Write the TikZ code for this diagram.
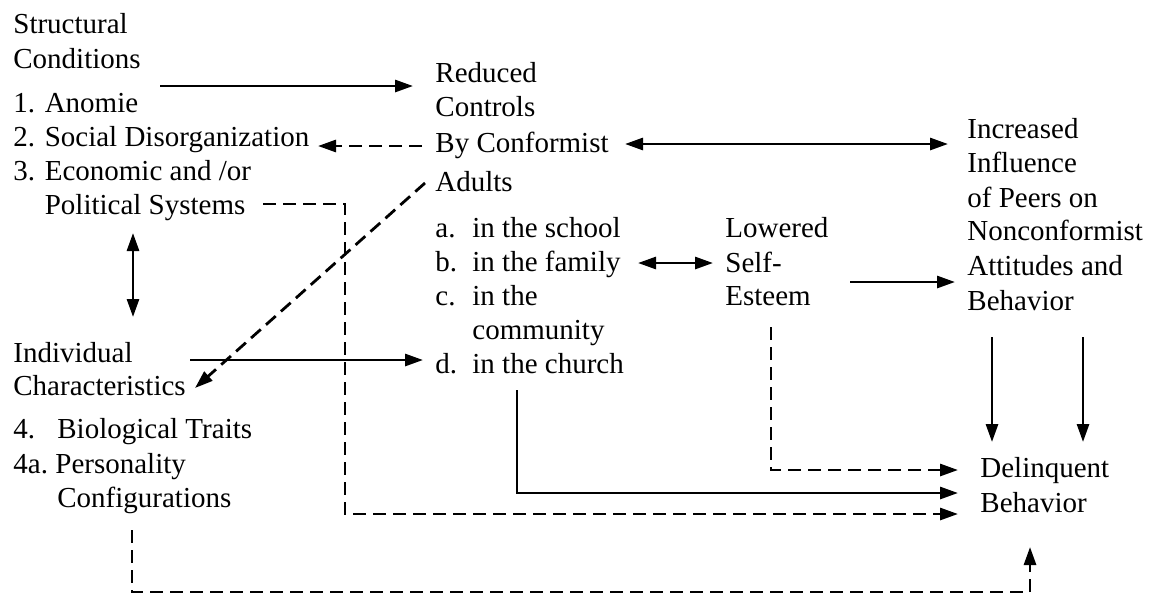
\documentclass[tikz,border=0pt]{standalone}
\usepackage{fontspec}
\setmainfont{Liberation Serif}
\usetikzlibrary{arrows.meta}
\begin{document}
\begin{tikzpicture}[x=0.5pt,y=-0.5pt,
  txt/.style={anchor=base west,inner sep=0pt,font=\fontsize{14.5}{17}\selectfont},
  conn/.style={line width=1.4pt,-{Triangle[length=9pt,width=6pt]}},
  bothconn/.style={line width=1.4pt,{Triangle[length=9pt,width=6pt]}-{Triangle[length=9pt,width=6pt]}},
  dashln/.style={dash pattern=on 6.5pt off 3.5pt}]
\useasboundingbox (0,0) rectangle (1149,596);
% left column
\node[txt] (sc1) at (13,33) {Structural};
\node[txt] (sc2) at (13,68) {Conditions};
\node[txt] (sc3) at (13,112) {1. Anomie};
\node[txt] (sc4) at (13,146) {2. Social Disorganization};
\node[txt] (sc5) at (13,180) {3. Economic and /or};
\node[txt] (sc6) at (13,214) {\phantom{3. }Political Systems};
\node[txt] (ic1) at (13,362) {Individual};
\node[txt] (ic2) at (13,395) {Characteristics};
\node[txt] (ic3) at (13,438) {\makebox[22pt][l]{4.}Biological Traits};
\node[txt] (ic4) at (13,473) {\makebox[21pt][l]{4a.}Personality};
\node[txt] (ic5) at (13,507) {\hspace*{22pt}Configurations};
% middle column
\node[txt] (rc1) at (435,82) {Reduced};
\node[txt] (rc2) at (435,116) {Controls};
\node[txt] (rc3) at (435,152) {By Conformist};
\node[txt] (rc4) at (435,191) {Adults};
\node[txt] (rca) at (435,237) {\makebox[18.5pt][l]{a.}in the school};
\node[txt] (rcb) at (435,271) {\makebox[18.5pt][l]{b.}in the family};
\node[txt] (rcc) at (435,305) {\makebox[18.5pt][l]{c.}in the};
\node[txt] (rcc2) at (435,339) {\hspace*{18.5pt}community};
\node[txt] (rcd) at (435,373) {\makebox[18.5pt][l]{d.}in the church};
% lowered self-esteem
\node[txt] (ls1) at (725,237) {Lowered};
\node[txt] (ls2) at (725,272) {Self-};
\node[txt] (ls3) at (725,305) {Esteem};
% peers
\node[txt] (ip1) at (967,138) {Increased};
\node[txt] (ip2) at (967,172) {Influence};
\node[txt] (ip3) at (967,207) {of Peers on};
\node[txt] (ip4) at (967,240) {Nonconformist};
\node[txt] (ip5) at (967,275) {Attitudes and};
\node[txt] (ip6) at (967,310) {Behavior};
% delinquent
\node[txt] (db1) at (980,477) {Delinquent};
\node[txt] (db2) at (980,512) {Behavior};
% connector end points
\coordinate (a1) at (160,86);   \coordinate (a2) at (413,86);
\coordinate (b1) at (422,146);  \coordinate (b2) at (318,146);
\coordinate (c1) at (625,144);  \coordinate (c2) at (948,144);
\coordinate (d1) at (263,204);  \coordinate (d2) at (345,204);
\coordinate (d3) at (345,514);  \coordinate (d4) at (958,514);
\coordinate (e1) at (425,183);  \coordinate (e2) at (195,388);
\coordinate (f1) at (133,233);  \coordinate (f2) at (133,317);
\coordinate (g1) at (190,360);  \coordinate (g2) at (423,360);
\coordinate (h1) at (638,263);  \coordinate (h2) at (713,263);
\coordinate (i1) at (850,282);  \coordinate (i2) at (955,282);
\coordinate (j1) at (771,327);  \coordinate (j2) at (771,470);  \coordinate (j3) at (958,470);
\coordinate (k1) at (517,390);  \coordinate (k2) at (517,493);  \coordinate (k3) at (958,493);
\coordinate (l1) at (992,337);  \coordinate (l2) at (992,442);
\coordinate (m1) at (1083,337); \coordinate (m2) at (1083,442);
\coordinate (n1) at (132,530);  \coordinate (n2) at (132,592);
\coordinate (n3) at (1030,592); \coordinate (n4) at (1030,547);
% connectors
\draw[conn] (a1) -- (a2);
\draw[conn,dashln] (b1) -- (b2);
\draw[bothconn] (c1) -- (c2);
\draw[conn,dashln] (d1) -- (d2) -- (d3) -- (d4);
\draw[conn,dashln] (e1) -- (e2);
\draw[bothconn] (f1) -- (f2);
\draw[conn] (g1) -- (g2);
\draw[bothconn] (h1) -- (h2);
\draw[conn] (i1) -- (i2);
\draw[conn,dashln] (j1) -- (j2) -- (j3);
\draw[conn] (k1) -- (k2) -- (k3);
\draw[conn] (l1) -- (l2);
\draw[conn] (m1) -- (m2);
\draw[conn,dashln] (n1) -- (n2) -- (n3) -- (n4);
\end{tikzpicture}
\end{document}
